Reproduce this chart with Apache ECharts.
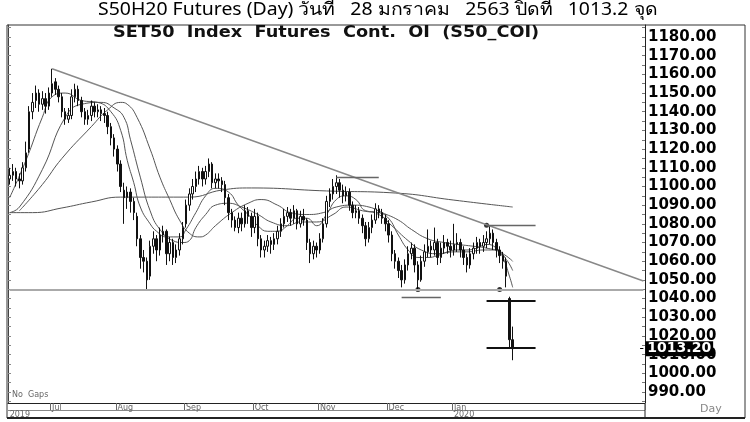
<!DOCTYPE html>
<html><head><meta charset="utf-8">
<script src="https://cdn.jsdelivr.net/npm/echarts@6/dist/echarts.min.js"></script>
<style>html,body{margin:0;padding:0;background:#fff}#c{width:750px;height:422px}</style>
</head><body><div id="c"></div>
<script>
// ---- daily OHLC ----
const opens = [1104,1106,1108,1104,1103,1110,1120,1140,1146,1150,
1144,1147,1143,1150,1156,1152,1148,1140,1136,1138,
1148,1152,1146,1140,1136,1138,1143,1140,1141,1139,
1138,1132,1126,1120,1112,1098,1094,1097,1092,1084,
1072,1062,1060,1052,1068,1072,1066,1074,1076,1064,
1070,1062,1066,1072,1080,1090,1096,1100,1104,1108,
1104,1108,1112,1102,1104,1103,1101,1094,1086,1082,
1078,1083,1080,1087,1084,1078,1084,1072,1066,1068,
1071,1069,1072,1076,1080,1084,1086,1083,1087,1080,
1084,1082,1070,1064,1068,1066,1072,1080,1092,1096,
1100,1102,1098,1095,1097,1090,1086,1087,1083,1079,
1072,1078,1082,1088,1086,1083,1080,1074,1064,1060,
1055,1050,1058,1064,1067,1058,1050,1060,1065,1068,
1066,1070,1062,1067,1070,1068,1066,1069,1070,1066,
1062,1058,1064,1067,1070,1068,1070,1072,1075,1070,
1066,1063,1060,1040,1018];
const closes = [1106,1108,1104,1103,1110,1118,1140,1145,1150,1144,
1147,1143,1150,1155,1152,1148,1140,1136,1138,1148,
1152,1146,1140,1136,1138,1143,1140,1141,1139,1138,
1132,1126,1120,1112,1100,1094,1097,1092,1086,1072,
1062,1060,1050,1068,1072,1066,1074,1076,1064,1070,
1062,1066,1072,1078,1090,1096,1100,1104,1108,1104,
1108,1112,1102,1104,1103,1101,1094,1086,1082,1078,
1083,1080,1087,1084,1078,1084,1072,1066,1068,1071,
1069,1072,1076,1080,1084,1086,1083,1087,1080,1084,
1082,1070,1064,1068,1066,1072,1080,1092,1096,1100,
1102,1098,1095,1097,1090,1086,1087,1083,1079,1072,
1078,1082,1088,1086,1083,1080,1074,1064,1060,1055,
1050,1058,1064,1067,1058,1050,1060,1065,1068,1066,
1070,1062,1067,1070,1068,1066,1069,1070,1066,1062,
1058,1064,1067,1070,1068,1070,1072,1075,1070,1066,
1063,1060,1052,1018,1013.2];
const highs = [1110,1112,1110,1107,1113,1124,1143,1150,1154,1152,
1151,1150,1153,1163,1158,1154,1150,1142,1142,1152,
1155,1154,1148,1142,1141,1146,1145,1144,1143,1142,
1140,1134,1128,1122,1114,1102,1100,1099,1094,1086,
1074,1066,1062,1071,1076,1074,1078,1079,1077,1073,
1072,1069,1075,1081,1093,1099,1104,1108,1111,1110,
1111,1115,1113,1107,1107,1105,1103,1096,1088,1084,
1086,1086,1090,1089,1086,1088,1086,1074,1071,1074,
1073,1075,1079,1083,1088,1089,1088,1090,1088,1087,
1088,1083,1072,1071,1070,1075,1083,1095,1099,1104,
1106,1104,1101,1100,1099,1092,1090,1089,1085,1081,
1081,1085,1091,1090,1088,1085,1082,1076,1066,1062,
1058,1061,1068,1070,1069,1060,1063,1069,1077,1071,
1078,1072,1070,1074,1072,1071,1080,1075,1072,1068,
1064,1067,1070,1073,1072,1074,1076,1079,1077,1072,
1068,1065,1062,1041,1025];
const lows = [1101,1103,1100,1099,1101,1108,1118,1136,1142,1140,
1141,1139,1141,1148,1149,1145,1137,1133,1134,1136,
1145,1143,1137,1133,1133,1135,1137,1137,1135,1134,
1128,1122,1116,1108,1097,1080,1088,1086,1082,1068,
1056,1054,1045,1050,1064,1060,1063,1070,1058,1060,
1058,1059,1063,1069,1078,1087,1093,1097,1101,1100,
1101,1105,1099,1099,1099,1097,1090,1082,1078,1076,
1075,1076,1078,1080,1073,1075,1068,1062,1062,1065,
1064,1066,1069,1073,1078,1081,1079,1080,1077,1078,
1079,1066,1059,1061,1062,1064,1070,1078,1089,1093,
1096,1094,1091,1092,1087,1083,1083,1080,1075,1068,
1070,1075,1080,1083,1080,1076,1070,1060,1056,1051,
1046,1048,1055,1061,1054,1045,1049,1057,1062,1062,
1063,1058,1059,1064,1064,1062,1063,1065,1062,1058,
1054,1056,1061,1064,1064,1065,1067,1069,1066,1062,
1059,1056,1046,1014,1007];

// ---- moving averages ([bar index, value]) ----
const maShort = [[0,1094],[5,1114],[10,1137],[13,1148],[17,1150],[22,1146],[27,1145],[31,1140],[34,1130],[36,1114],[38,1102],[40,1089],[43,1080],[45,1076],[48,1073],[52,1073],[54,1077],[57,1086],[60,1095],[63,1099],[67,1097],[70,1090],[73,1085],[76,1079],[79,1076],[82,1076],[85,1079],[88,1083],[91,1083],[94,1079],[97,1085],[100,1093],[103,1095],[106,1093],[109,1087],[113,1086],[116,1083],[119,1074],[122,1066],[125,1062],[128,1062],[131,1063],[134,1065],[137,1066],[140,1066],[143,1067],[146,1069],[149,1067],[151,1062],[153,1052],[154,1046]];
const maMid = [[0,1086],[3,1089],[10,1109],[17,1137],[22,1144],[28,1145],[32,1142],[35,1137],[37,1125],[40,1105],[43,1087],[46,1077],[50,1071],[53,1070],[55,1071],[57,1078],[60,1085],[63,1090],[67,1091],[71,1089],[76,1085],[80,1081],[85,1079],[89,1081],[94,1081],[99,1085],[103,1089],[108,1087],[113,1085],[117,1079],[122,1071],[126,1066],[131,1064],[136,1065],[140,1065],[145,1066],[149,1066],[152,1061],[154,1055]];
const maLong = [[3,1087],[10,1101],[16,1115],[25,1132],[30,1141],[34,1145],[36,1144],[39,1137],[43,1120],[46,1105],[49,1093],[52,1082],[55,1075],[58,1073],[60,1074],[63,1079],[68,1086],[73,1091],[77,1093],[82,1090],[86,1086],[91,1085],[96,1086],[100,1089],[105,1090],[110,1089],[114,1086],[119,1082],[123,1077],[128,1072],[133,1070],[137,1069],[142,1068],[146,1067],[150,1065],[154,1060]];
const ma200 = [[0,1086],[7,1086],[16,1088.5],[25,1091.7],[34,1094.3],[55,1094.3],[65,1098.1],[74,1099.2],[97,1097.6],[118,1096.5],[136,1092.7],[146,1090.6],[154,1089]];

// ---- annotations ----
const trendStart = [13, 1163];
const trendEnd = [194, 1049.4];
const supportLevel = 1044.8;
const segments = [
  [[100,1105.2],[113,1105.2]],
  [[146,1079],[161,1079]],
  [[120,1040.5],[132,1040.5]]
];
const crossLevels = [1039, 1013.5];
const crossRange = [146, 161];
const dots = [[125,1044.8],[146,1079.3],[150,1044.8]];
const lastClose = 1013.2;

// ---- axes ----
const totalSlots = 195;
const monthLabels = ['Jul','Aug','Sep','Oct','Nov','Dec','Jan'];
const monthStarts = [13,33,54,75,95,116,136];
const yearLabels = {0:'2019', 136:'2020'};
const yTicks = [990,1000,1010,1020,1030,1040,1050,1060,1070,1080,1090,1100,1110,1120,1130,1140,1150,1160,1170,1180];
const yMinor = [985,990,995,1000,1005,1010,1015,1020,1025,1030,1035,1040,1045,1050,1055,1060,1065,1070,1075,1080,1085,1090,1095,1100,1105,1110,1115,1120,1125,1130,1135,1140,1145,1150,1155,1160,1165,1170,1175,1180,1185];

const categories = Array.from({length: totalSlots}, (_, i) => String(i));
const candle = opens.map((o, i) => [o, closes[i], lows[i], highs[i]]);

const chart = echarts.init(document.getElementById('c'));
const maLine = (d) => ({type:'line', data:d, smooth:0.5, showSymbol:false, silent:true, z:2,
  lineStyle:{color:'#555', width:1}});

const lineSeg = (a, b, color, width) => [{coord:a, lineStyle:{color, width, type:'solid'}}, {coord:b}];
const markData = [
  lineSeg(trendStart, trendEnd, '#888', 1.4),
  lineSeg([0, supportLevel], [194, supportLevel], '#aaa', 2),
  ...segments.map(s => lineSeg(s[0], s[1], '#666', 1.3)),
  ...crossLevels.map(v => lineSeg([crossRange[0], v], [crossRange[1], v], '#111', 2)),
  [{coord:[193, lastClose], lineStyle:{color:'#000', width:1},
    label:{show:true, position:'end', distance:2, formatter: lastClose.toFixed(2),
      backgroundColor:'#000', color:'#fff', fontWeight:'bold', fontFamily:'DejaVu Sans',
      fontSize:14, padding:[1,2,0,2]}}, {coord:[194, lastClose]}]
];

chart.setOption({
  animation:false,
  backgroundColor:'#fff',
  grid:{left:8, right:105, top:25, bottom:19},
  xAxis:{type:'category', data:categories, boundaryGap:true,
    axisLine:{lineStyle:{color:'#222'}},
    axisTick:{show:true, interval:(i)=>monthStarts.includes(i), length:7, lineStyle:{color:'#666'}},
    axisLabel:{show:true, interval:(i)=>monthStarts.includes(i) || yearLabels[i]!==undefined,
      align:'left', margin:1, fontSize:8, lineHeight:7, color:'#666', fontFamily:'DejaVu Sans',
      formatter:(v, i) => {
        const m = monthStarts.indexOf(i);
        const top = m >= 0 ? monthLabels[m] : '';
        const yr = yearLabels[i] !== undefined ? yearLabels[i] : '';
        return yr ? top + '\n' + yr : top;
      }},
    splitLine:{show:false}},
  yAxis:[
    {type:'value', position:'right', min:984.11, max:1186.42, scale:true,
      axisLine:{show:true, lineStyle:{color:'#222'}},
      axisTick:{show:true, inside:true, length:3, customValues:yMinor, lineStyle:{color:'#777'}},
      axisLabel:{show:true, customValues:yTicks, margin:3, fontSize:15, fontWeight:'bold',
        fontFamily:'DejaVu Sans', color:'#000', formatter:(v)=>v.toFixed(2)},
      splitLine:{show:false}},
    {type:'value', position:'left', min:984.11, max:1186.42, scale:true,
      axisLine:{show:true, lineStyle:{color:'#444'}},
      axisTick:{show:true, inside:true, length:3, customValues:yMinor, lineStyle:{color:'#888'}},
      axisLabel:{show:false}, splitLine:{show:false}}
  ],
  series:[
    maLine(ma200), maLine(maLong), maLine(maMid), maLine(maShort),
    {type:'candlestick', data:candle, barWidth:2, z:3, silent:true,
      itemStyle:{color:'#fff', color0:'#111', borderColor:'#111', borderColor0:'#111', borderWidth:1}},
    {type:'scatter', data:dots, symbolSize:5, z:4, silent:true, itemStyle:{color:'#000'}},
    {type:'line', data:[], silent:true, z:1,
      markLine:{silent:true, symbol:['none','none'], animation:false, label:{show:false}, data:markData}}
  ],
  graphic:[
    {type:'rect', shape:{x:7, y:25, width:738, height:393}, style:{fill:'none', stroke:'#333', lineWidth:1}, silent:true},
    {type:'line', shape:{x1:7, y1:418, x2:745, y2:418}, style:{stroke:'#222', lineWidth:2}, silent:true},
    {type:'line', shape:{x1:8, y1:410.5, x2:645, y2:410.5}, style:{stroke:'#888', lineWidth:1}, silent:true},
    {type:'line', shape:{x1:645, y1:403, x2:645, y2:418}, style:{stroke:'#222', lineWidth:1}, silent:true},
    {type:'text', x:98, y:1, scaleX:1.08, style:{text:'S50H20 Futures (Day) วันที่   28 มกราคม   2563 ปิดที่   1013.2 จุด',
      font:'18px "Noto Sans", "Open Sans", sans-serif', fill:'#000', textAlign:'left'}, silent:true},
    {type:'text', x:113, y:26, scaleX:1.18, style:{text:'SET50  Index  Futures  Cont.  OI  (S50_COI)',
      font:'bold 15px "DejaVu Sans", sans-serif', fill:'#111', textAlign:'left'}, silent:true},
    {type:'text', x:12, y:391, style:{text:'No  Gaps', font:'8px "DejaVu Sans", sans-serif', fill:'#666'}, silent:true},
    {type:'text', x:700, y:404, style:{text:'Day', font:'11px "DejaVu Sans", sans-serif', fill:'#888'}, silent:true}
  ]
});
</script></body></html>
